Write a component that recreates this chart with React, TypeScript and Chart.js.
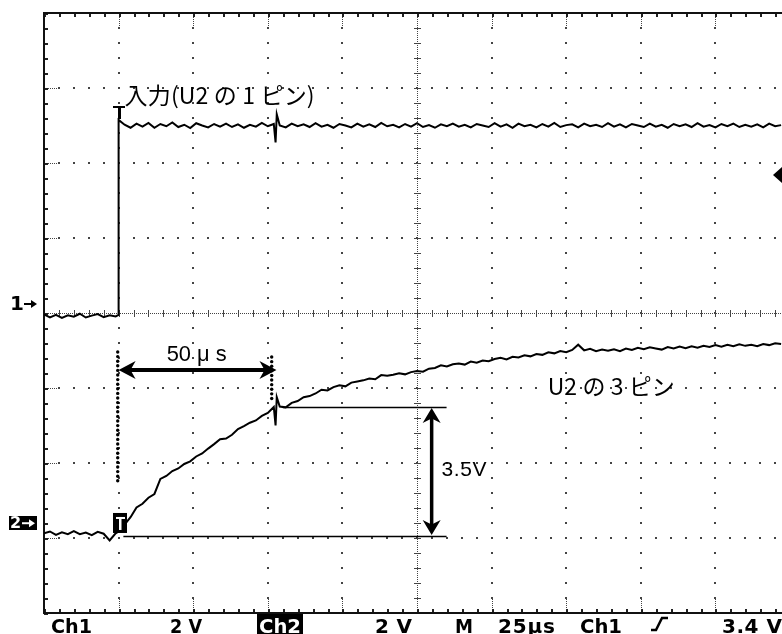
import React, { useEffect, useRef } from "react";
import { Chart, registerables } from "chart.js";

Chart.register(...registerables);

// ---- data (time in µs, 0 = trigger point; volts per channel) ----
const ch1LowTimes = [-25, -23, -21, -19, -17, -15, -13, -11, -9, -7, -5, -3, -1, 0];
const ch1LowVolts = [-0.04, -0.12, -0.05, -0.13, -0.06, -0.1, -0.02, -0.12, -0.07, -0.03, -0.11, -0.06, -0.09, -0.05];

const preTimes = [-25, -23, -21, -19, -17, -15, -13, -11, -9, -7, -5, -3, -1];
const ch2PreVolts = [0.07, 0.12, 0.03, 0.1, 0.05, 0.13, 0.05, 0.09, 0.02, 0.11, 0.06, -0.12, 0.07];

const postTimes = [
  0, 2, 4, 6, 8, 10, 12, 14, 16, 18, 20, 22, 24, 26, 28, 30, 32, 34, 36, 38, 40, 42, 44, 46, 48, 50, 52,
  52.6, 53,
  54, 56, 58, 60, 62, 64, 66, 68, 70, 72,
  74, 76, 78, 80, 82, 84, 86, 88, 90, 92,
  94, 96, 98, 100, 102, 104, 106, 108, 110, 112,
  114, 116, 118, 120, 122, 124, 126, 128, 130, 132,
  134, 136, 138, 140, 142, 144, 146, 148, 150, 152,
  154, 156, 158, 160, 162, 164, 166, 168, 170, 172,
  174, 176, 178, 180, 182, 184, 186, 188, 190, 192,
  194, 196, 198, 200, 202, 204, 206, 208, 210, 212,
  214, 216, 218, 220, 222,
];

const ch1HighVolts = [
  5.15, 5.02, 4.94, 5.05, 4.97, 5.07, 4.94, 5.04, 4.98, 5.08, 4.96, 5.02, 4.93, 5.06, 5.0, 4.95, 5.04, 4.97, 5.05, 4.96, 5.03, 4.94, 5.02, 4.97, 5.07, 4.98, 5.04,
  4.55, 5.3,
  5.0, 4.95, 5.05, 4.98, 5.03, 4.96, 5.06, 4.97, 5.02, 4.94,
  5.04, 5.0, 4.95, 5.05, 4.97, 5.03, 4.96, 5.07, 4.98, 5.02,
  4.95, 5.04, 4.97, 5.06, 4.96, 5.01, 4.94, 5.03, 4.98, 5.05,
  4.97, 5.02, 4.95, 5.04, 5.0, 4.96, 5.06, 4.97, 5.03, 4.94,
  5.05, 4.98, 5.02, 4.95, 5.04, 4.97, 5.07, 4.96, 5.01, 5.03,
  4.95, 5.05, 4.98, 5.02, 4.96, 5.06, 4.97, 5.03, 4.95, 5.04,
  5.0, 4.96, 5.05, 4.97, 5.02, 4.94, 5.04, 4.98, 5.03, 4.96,
  5.06, 4.97, 5.01, 4.95, 5.04, 4.98, 5.05, 4.96, 5.02, 4.97,
  5.03, 4.95, 5.05, 4.98, 5.01,
];

const ch2RiseVolts = [
  0.12, 0.3, 0.5, 0.76, 0.86, 1.02, 1.12, 1.52, 1.6, 1.73, 1.8, 1.92, 1.99, 2.12, 2.2, 2.33, 2.45, 2.58, 2.6, 2.7, 2.85, 2.93, 3.02, 3.08, 3.2, 3.28, 3.44,
  2.95, 3.7,
  3.45, 3.43, 3.55, 3.6, 3.7, 3.73, 3.8, 3.9, 3.88, 3.97,
  4.02, 3.99, 4.09, 4.12, 4.15, 4.2, 4.18, 4.29, 4.27, 4.3,
  4.34, 4.31, 4.37, 4.4, 4.38, 4.46, 4.48, 4.55, 4.52, 4.58,
  4.6, 4.57, 4.65, 4.62, 4.68, 4.66, 4.72, 4.75, 4.71, 4.78,
  4.76, 4.82, 4.79, 4.85, 4.83, 4.9, 4.87, 4.93, 4.9, 4.96,
  5.1, 4.95, 4.99, 4.93, 4.97, 4.94, 4.98, 4.93, 5.0, 4.96,
  5.02, 4.98, 5.03, 5.0, 4.97, 5.04, 5.0, 5.05, 5.01, 5.06,
  5.02, 5.07, 5.04, 5.09, 5.05, 5.1, 5.06, 5.11, 5.07, 5.1,
  5.06, 5.12, 5.09, 5.14, 5.12,
];

const CH1_VOLTS_PER_DIV = 2;
const CH2_VOLTS_PER_DIV = 2;
const CH1_GROUND_DIV = 0;
const CH2_GROUND_DIV = -2.973;
const TIME_PER_DIV = 25;
const X_MIN = -25;
const X_MAX = 222.3;
const Y_MIN = -4;
const Y_MAX = 4;

const inputLabel = "入力(U2 の 1 ピン)";
const outputLabel = "U2 の 3 ピン";
const intervalLabel = "50 μ s";
const riseLabel = "3.5V";
const channelLabels = ["1", "2"];
const statusLabels = ["Ch1", "2 V", "Ch2", "2 V", "M", "25µs", "Ch1", "3.4 V"];

function fitText(ctx: any, text: string, x: number, y: number, font: string, width: number, color: string, baseline = "middle") {
  ctx.save();
  ctx.font = font;
  ctx.fillStyle = color;
  ctx.textBaseline = baseline;
  ctx.textAlign = "left";
  if ("letterSpacing" in ctx) ctx.letterSpacing = "0px";
  const w0 = ctx.measureText(text).width;
  const n = Array.from(text).length;
  if (width && width > w0 && n > 1 && "letterSpacing" in ctx) {
    ctx.letterSpacing = (width - w0) / (n - 1) + "px";
    ctx.fillText(text, x, y);
  } else if (width && width < w0) {
    ctx.translate(x, y);
    ctx.scale(width / w0, 1);
    ctx.fillText(text, 0, 0);
  } else {
    ctx.fillText(text, x, y);
  }
  ctx.restore();
}

function arrowHead(ctx: any, x: number, y: number, angle: number, len: number, half: number) {
  ctx.save();
  ctx.translate(x, y);
  ctx.rotate(angle);
  ctx.beginPath();
  ctx.moveTo(0, 0);
  ctx.lineTo(-len, -half);
  ctx.lineTo(-len * 0.7, 0);
  ctx.lineTo(-len, half);
  ctx.closePath();
  ctx.fill();
  ctx.restore();
}

function smallArrow(ctx: any, x0: number, x1: number, y: number, color: string) {
  ctx.save();
  ctx.strokeStyle = color;
  ctx.fillStyle = color;
  ctx.lineWidth = 2;
  ctx.beginPath();
  ctx.moveTo(x0, y);
  ctx.lineTo(x1 - 4, y);
  ctx.stroke();
  ctx.beginPath();
  ctx.moveTo(x1, y);
  ctx.lineTo(x1 - 6, y - 4);
  ctx.lineTo(x1 - 6, y + 4);
  ctx.closePath();
  ctx.fill();
  ctx.restore();
}

const scopePlugin = {
  id: "scope",
  beforeDraw(chart: any) {
    const { ctx, chartArea, scales } = chart;
    const xs = scales.x;
    const ys = scales.y;
    const L = chartArea.left, T = chartArea.top, B = chartArea.bottom, R = chartArea.right;
    ctx.save();
    ctx.fillStyle = "#ffffff";
    ctx.fillRect(0, 0, chart.width, chart.height);

    const minorXs: number[] = [];
    for (let i = 0; i <= 50; i++) minorXs.push(X_MIN + (i * TIME_PER_DIV) / 5);
    const minorYs: number[] = [];
    for (let i = 0; i <= 40; i++) minorYs.push(Y_MIN + i * 0.2);

    ctx.fillStyle = "#444";
    const dot = (x: number, y: number) => ctx.fillRect(Math.round(x) - 1, Math.round(y) - 1, 2, 2);

    // vertical major lines
    for (let k = 1; k < 10; k++) {
      const px = Math.round(xs.getPixelForValue(X_MIN + k * TIME_PER_DIV));
      if (px > R) continue;
      if (k === 5) {
        for (let y = T; y <= B; y += 2) ctx.fillRect(px, y, 1, 1);
        minorYs.forEach((d) => {
          const py = Math.round(ys.getPixelForValue(d));
          ctx.fillRect(px - 3, py, 7, 1);
        });
      } else {
        minorYs.forEach((d) => dot(px, ys.getPixelForValue(d)));
        for (let y = T; y <= T + 12; y += 2) ctx.fillRect(px, y, 1, 1);
        for (let y = B - 16; y <= B; y += 2) ctx.fillRect(px, y, 1, 1);
      }
    }
    // horizontal major lines
    for (let k = 1; k < 8; k++) {
      const py = Math.round(ys.getPixelForValue(Y_MIN + k));
      if (k === 4) {
        for (let x = L; x <= R; x += 2) ctx.fillRect(x, py, 1, 1);
        minorXs.forEach((t) => {
          const px = Math.round(xs.getPixelForValue(t));
          ctx.fillRect(px, py - 3, 1, 7);
        });
      } else {
        minorXs.forEach((t) => dot(xs.getPixelForValue(t), py));
        for (let x = L; x <= L + 12; x += 2) ctx.fillRect(x, py, 1, 1);
      }
    }
    // border ticks
    ctx.fillStyle = "#222";
    minorXs.forEach((t) => {
      const px = Math.round(xs.getPixelForValue(t));
      ctx.fillRect(px, T, 2, 4);
      ctx.fillRect(px, B - 4, 2, 4);
    });
    minorYs.forEach((d) => {
      const py = Math.round(ys.getPixelForValue(d));
      ctx.fillRect(L, py, 4, 2);
    });
    // border lines
    ctx.fillStyle = "#111";
    ctx.fillRect(L - 1, T - 1, 2, B - T + 2);
    ctx.fillRect(L - 1, T - 1, R - L + 2, 2);
    ctx.fillRect(L - 1, B - 1, R - L + 2, 2);
    ctx.restore();
  },
  afterDatasetsDraw(chart: any) {
    const { ctx, scales, chartArea } = chart;
    const px = (t: number) => scales.x.getPixelForValue(t);
    const py = (d: number) => scales.y.getPixelForValue(d);
    ctx.save();
    ctx.fillStyle = "#000";
    ctx.strokeStyle = "#000";

    // CH1 trigger "T" marker at top of step
    const tx = Math.round(px(0));
    ctx.fillRect(tx - 6, Math.round(py(2.76)), 12, 2);
    ctx.fillRect(tx - 1, Math.round(py(2.76)), 3, 13);

    // CH2 trigger box marker
    const by = py(CH2_GROUND_DIV);
    ctx.fillRect(tx - 6, by - 23, 14, 20);
    ctx.fillStyle = "#fff";
    ctx.fillRect(tx - 3, by - 19, 9, 2);
    ctx.fillRect(tx, by - 19, 2.5, 13);
    ctx.fillStyle = "#000";

    // reference lines for the 3.5 V measurement
    ctx.lineWidth = 1.5;
    ctx.beginPath();
    ctx.moveTo(px(55), Math.round(py(-1.253)) + 0.5);
    ctx.lineTo(px(109.9), Math.round(py(-1.253)) + 0.5);
    ctx.moveTo(px(1.6), Math.round(by) + 0.5);
    ctx.lineTo(px(109.9), Math.round(by) + 0.5);
    ctx.stroke();

    // vertical double arrow
    const vx = px(104.9);
    const vy0 = py(-1.253) + 1, vy1 = by - 1;
    ctx.lineWidth = 3.5;
    ctx.beginPath();
    ctx.moveTo(vx, vy0 + 10);
    ctx.lineTo(vx, vy1 - 10);
    ctx.stroke();
    arrowHead(ctx, vx, vy0, -Math.PI / 2, 15, 9);
    arrowHead(ctx, vx, vy1, Math.PI / 2, 15, 9);

    // horizontal double arrow (50 µs)
    const hy = py(-0.76);
    const hx0 = px(0), hx1 = px(52.9);
    ctx.lineWidth = 4;
    ctx.beginPath();
    ctx.moveTo(hx0 + 10, hy);
    ctx.lineTo(hx1 - 10, hy);
    ctx.stroke();
    arrowHead(ctx, hx0, hy, Math.PI, 17, 9);
    arrowHead(ctx, hx1, hy, 0, 17, 9);

    // thick dotted guide lines
    const dotted = (x: number, y0: number, y1: number) => {
      for (let y = y0; y <= y1; y += 4.6) {
        ctx.beginPath();
        ctx.arc(x, y, 1.7, 0, Math.PI * 2);
        ctx.fill();
      }
    };
    dotted(px(-0.3), py(-0.52), py(-2.29));
    dotted(px(51.3), py(-0.587), py(-1.173));

    // annotation texts
    fitText(ctx, inputLabel, px(2.0), py(2.907), "23px 'Noto Sans CJK JP'", 190, "#000");
    fitText(ctx, intervalLabel, px(16.1), py(-0.56), "22px 'Liberation Sans'", 60, "#000");
    fitText(ctx, riseLabel, px(108.2), py(-2.093), "21px 'Liberation Sans'", 45, "#000");
    fitText(ctx, outputLabel, px(143.8), py(-0.973), "23px 'Noto Sans CJK JP'", 127, "#000");

    // channel ground markers
    const m1 = py(CH1_GROUND_DIV + 0.12);
    fitText(ctx, channelLabels[0], 10, m1 + 1, "bold 20px 'DejaVu Sans'", 0, "#000");
    smallArrow(ctx, 24, 37, m1, "#000");
    const m2 = py(CH2_GROUND_DIV + 0.17);
    ctx.fillStyle = "#000";
    ctx.fillRect(9, Math.round(m2) - 7, 28, 14);
    fitText(ctx, channelLabels[1], 10, m2 + 1, "bold 16px 'DejaVu Sans'", 0, "#fff");
    smallArrow(ctx, 22, 35, m2, "#fff");

    // trigger level arrow (right edge)
    const ty = py(1.84);
    ctx.fillStyle = "#000";
    ctx.beginPath();
    ctx.moveTo(chartArea.right - 9, ty);
    ctx.lineTo(chartArea.right, ty - 8);
    ctx.lineTo(chartArea.right, ty + 8);
    ctx.closePath();
    ctx.fill();

    // status bar
    const sb = 633;
    const font = "bold 20px 'DejaVu Sans'";
    fitText(ctx, statusLabels[0], 51, sb, font, 41, "#000", "alphabetic");
    fitText(ctx, statusLabels[1], 170, sb, font, 32, "#000", "alphabetic");
    ctx.fillStyle = "#000";
    ctx.fillRect(257, 614, 46, 20);
    fitText(ctx, statusLabels[2], 259, sb, font, 42, "#fff", "alphabetic");
    fitText(ctx, statusLabels[3], 375, sb, font, 37, "#000", "alphabetic");
    fitText(ctx, statusLabels[4], 455, sb, font, 18, "#000", "alphabetic");
    fitText(ctx, statusLabels[5], 498, sb, font, 57, "#000", "alphabetic");
    fitText(ctx, statusLabels[6], 580, sb, font, 42, "#000", "alphabetic");
    // rising-edge slope symbol
    ctx.strokeStyle = "#000";
    ctx.lineWidth = 2.5;
    ctx.beginPath();
    ctx.moveTo(651, 630);
    ctx.lineTo(656, 630);
    ctx.lineTo(662, 618);
    ctx.lineTo(668, 618);
    ctx.stroke();
    fitText(ctx, statusLabels[7], 722, sb, font, 60, "#000", "alphabetic");
    ctx.restore();
  },
};

export default function App() {
  const ref = useRef<HTMLCanvasElement | null>(null);
  useEffect(() => {
    if (!ref.current) return;
    const ch1 = [
      ...ch1LowTimes.map((t, i) => ({ x: t, y: ch1LowVolts[i] / CH1_VOLTS_PER_DIV + CH1_GROUND_DIV })),
      ...postTimes.map((t, i) => ({ x: t, y: ch1HighVolts[i] / CH1_VOLTS_PER_DIV + CH1_GROUND_DIV })),
    ];
    const ch2 = [
      ...preTimes.map((t, i) => ({ x: t, y: ch2PreVolts[i] / CH2_VOLTS_PER_DIV + CH2_GROUND_DIV })),
      ...postTimes.map((t, i) => ({ x: t, y: ch2RiseVolts[i] / CH2_VOLTS_PER_DIV + CH2_GROUND_DIV })),
    ];
    const chart = new Chart(ref.current, {
      type: "scatter",
      data: {
        datasets: [
          { label: "CH1", data: ch1, showLine: true, borderColor: "#000", borderWidth: 2, pointRadius: 0, tension: 0 },
          { label: "CH2", data: ch2, showLine: true, borderColor: "#000", borderWidth: 2, pointRadius: 0, tension: 0 },
        ],
      },
      options: {
        responsive: false,
        animation: false,
        devicePixelRatio: 1,
        layout: { padding: { left: 44, top: 13, right: 0, bottom: 21 } },
        plugins: { legend: { display: false }, tooltip: { enabled: false } },
        scales: {
          x: { type: "linear", min: X_MIN, max: X_MAX, display: false },
          y: { type: "linear", min: Y_MIN, max: Y_MAX, display: false },
        },
      },
      plugins: [scopePlugin],
    } as any);
    return () => chart.destroy();
  }, []);
  return (
    <div style={{ position: "absolute", left: 0, top: 0, width: 782, height: 634, overflow: "hidden", background: "#fff" }}>
      <canvas ref={ref} width={782} height={634} style={{ display: "block" }} />
    </div>
  );
}
